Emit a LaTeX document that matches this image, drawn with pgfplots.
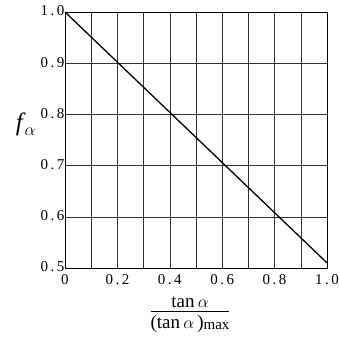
\documentclass[border=0pt]{standalone}
\usepackage{pgfplots}
\pgfplotsset{compat=1.18}
\usepackage{fontspec}
\setmainfont{Liberation Serif}
\newcommand{\dg}[2]{#1\kern2.5pt.\kern2.5pt#2}
\begin{document}
\begin{tikzpicture}
\begin{axis}[name=ax,
  scale only axis, width=262pt, height=256pt,
  xmin=0, xmax=1, ymin=0.5, ymax=1,
  /pgf/number format/assume math mode=true,
  xtick={0,0.2,0.4,0.6,0.8,1.0},
  xticklabels={0, \dg02, \dg04, \dg06, \dg08, \dg10},
  minor xtick={0.1,0.3,0.5,0.7,0.9},
  ytick={0.5,0.6,0.7,0.8,0.9,1.0},
  yticklabels={\dg05, \dg06, \dg07, \dg08, \dg09, \dg10},
  grid=both,
  major grid style={black!80, line width=0.5pt},
  minor grid style={black!80, line width=0.5pt},
  tick style={draw=none},
  axis line style={black, line width=0.6pt},
  tick label style={font=\fontsize{15}{16}\selectfont},
  xticklabel style={yshift=-3pt},
  yticklabel style={xshift=3pt, yshift=1pt},
  xlabel={\fontsize{19}{21}\selectfont
    \begin{tabular}{@{}c@{}}tan\,$\alpha$\\[-3pt]\hline\rule{0pt}{18pt}(tan\,$\alpha$\,)\raisebox{-1pt}{\fontsize{15}{15}\selectfont max}\end{tabular}},
  xlabel style={yshift=-1pt, xshift=-6pt},
  ylabel={\fontsize{25}{25}\selectfont\textit{f}\kern-1pt\raisebox{-5pt}{\fontsize{19}{19}\selectfont$\alpha$}},
  ylabel style={rotate=-90, at={(rel axis cs:0,0.56)}, anchor=east, xshift=-26pt},
]
\addplot[black, line width=1.3pt] coordinates {(0,1.0) (1.0,0.51)};
\end{axis}
\pgfresetboundingbox
\path ([xshift=-65pt,yshift=-71pt]ax.south west) rectangle ([xshift=11pt,yshift=12pt]ax.north east);
\end{tikzpicture}
\end{document}
